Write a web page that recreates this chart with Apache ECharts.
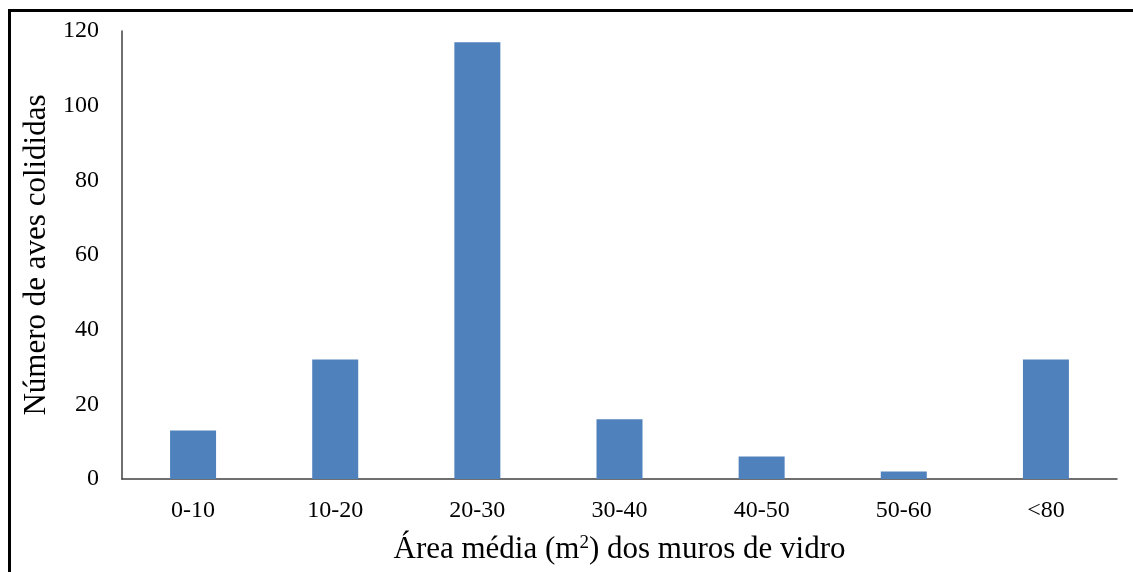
<!DOCTYPE html>
<html><head><meta charset="utf-8">
<script src="https://cdn.jsdelivr.net/npm/echarts@6/dist/echarts.min.js"></script>
<style>
html,body{margin:0;padding:0;background:#fff;}
#frame{position:absolute;left:8px;top:9px;width:1200px;height:700px;border-top:3px solid #000;border-left:3px solid #000;box-sizing:border-box;}
#chart{position:absolute;left:0;top:0;width:1133px;height:572px;}
</style></head>
<body>
<div id="frame"></div>
<div id="chart"></div>
<script>
const categories = ['0-10','10-20','20-30','30-40','40-50','50-60','<80'];
const values = [13, 32, 117, 16, 6, 2, 32];
const yTicks = {min: 0, max: 120, interval: 20};

const chart = echarts.init(document.getElementById('chart'));
const font = '"Liberation Serif", "Times New Roman", serif';
chart.setOption({
  animation: false,
  grid: {left: 122, right: 16, top: 31, bottom: 93},
  xAxis: {
    type: 'category', data: categories,
    axisLine: {lineStyle: {color: '#404040', width: 1.5}},
    axisTick: {show: false},
    axisLabel: {color: '#000', fontFamily: font, fontSize: 24, margin: 20},
    name: 'Área média (m{sup|2}) dos muros de vidro',
    nameLocation: 'middle', nameGap: 55,
    nameTextStyle: {color: '#000', fontFamily: font, fontSize: 31,
      rich: {sup: {fontFamily: font, fontSize: 19, verticalAlign: 'top', padding: [0,0,12,0], color:'#000'}}}
  },
  yAxis: {
    type: 'value', min: yTicks.min, max: yTicks.max, interval: yTicks.interval,
    splitLine: {show: false},
    axisLine: {show: true, lineStyle: {color: '#404040', width: 1.5}},
    axisTick: {show: false},
    axisLabel: {color: '#000', fontFamily: font, fontSize: 24, margin: 23},
    name: 'Número de aves colididas',
    nameLocation: 'middle', nameGap: 68,
    nameTextStyle: {color: '#000', fontFamily: font, fontSize: 31}
  },
  series: [{
    type: 'bar', data: values, barWidth: 46,
    itemStyle: {color: '#4F81BD'}
  }]
});
</script>
</body></html>
